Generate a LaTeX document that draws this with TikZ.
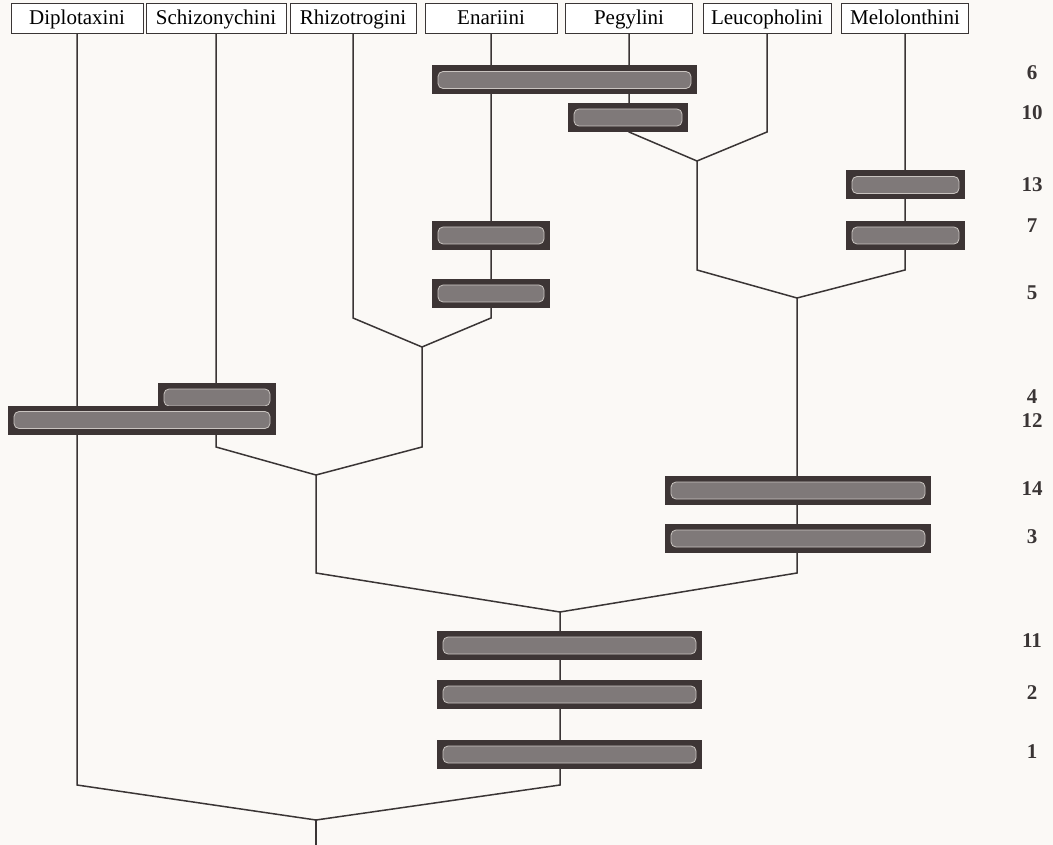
\documentclass[tikz,border=0pt]{standalone}
\usepackage{fontspec}
\setmainfont{Liberation Serif}
\usepackage{tikz}
\usetikzlibrary{positioning,calc}
\definecolor{paper}{HTML}{FBF9F6}
\definecolor{ink}{HTML}{3A3535}
\definecolor{barink}{HTML}{3D3535}
\definecolor{barmid}{HTML}{7F7979}
\definecolor{barrim}{HTML}{C9C4C0}
\tikzset{
  taxon/.style={rectangle, draw=ink, fill=white, line width=0.9pt,
                minimum height=30pt, inner sep=0pt, text height=16pt, text depth=2pt,
                font=\fontsize{21}{24}\selectfont},
  branch/.style={draw=ink, line width=1.5pt, line join=miter},
  bar/.style={rectangle, fill=barink, minimum height=29pt, inner sep=0pt,
              path picture={\fill[barmid, draw=barrim, line width=0.8pt, rounded corners=5pt]
                ([shift={(6pt,-6pt)}]path picture bounding box.north west) rectangle
                ([shift={(-6pt,6pt)}]path picture bounding box.south east);}},
  num/.style={font=\fontsize{21}{23}\selectfont\bfseries, text=ink}
}

\begin{document}
\begin{tikzpicture}[x=1pt, y=-1pt]
  \fill[paper] (0,0) rectangle (1053,845);
  \useasboundingbox (0,0) rectangle (1053,845);

  % taxa along the top
  \node[taxon, minimum width=132pt] (dipl) at (77,18)  {Diplotaxini};
  \node[taxon, minimum width=140pt] (schi) at (216,18) {Schizonychini};
  \node[taxon, minimum width=126pt] (rhiz) at (353,18) {Rhizotrogini};
  \node[taxon, minimum width=132pt] (enar) at (491,18) {Enariini};
  \node[taxon, minimum width=127pt] (pegy) at (629,18) {Pegylini};
  \node[taxon, minimum width=128pt] (leuc) at (767,18) {Leucopholini};
  \node[taxon, minimum width=127pt] (melo) at (905,18) {Melolonthini};

  % junctions and arm levels
  \coordinate (j1) at (697,161);  \coordinate (k1) at (0,132);
  \coordinate (j2) at (797,298);  \coordinate (k2) at (0,270);
  \coordinate (j3) at (422,347);  \coordinate (k3) at (0,318);
  \coordinate (j4) at (316,475);  \coordinate (k4) at (0,447);
  \coordinate (j5) at (560,612);  \coordinate (k5) at (0,573);
  \coordinate (root) at (316,820); \coordinate (k6) at (0,785);
  \coordinate (base) at (316,845);

  \draw[branch] (pegy.south) -- (pegy.south |- k1) -- (j1) -- (leuc.south |- k1) -- (leuc.south);
  \draw[branch] (j1) -- (j1 |- k2) -- (j2) -- (melo.south |- k2) -- (melo.south);
  \draw[branch] (rhiz.south) -- (rhiz.south |- k3) -- (j3) -- (enar.south |- k3) -- (enar.south);
  \draw[branch] (schi.south) -- (schi.south |- k4) -- (j4) -- (j3 |- k4) -- (j3);
  \draw[branch] (j4) -- (j4 |- k5) -- (j5) -- (j2 |- k5) -- (j2);
  \draw[branch] (dipl.south) -- (dipl.south |- k6) -- (root) -- (j5 |- k6) -- (j5);
  \draw[branch] (root) -- (base);

  % character bars
  \foreach \id/\x/\y/\w in {6/564.5/80/265, 10/628/117.5/120, 13/905.5/185/119,
      7a/491/235.5/118, 7b/905.5/235.5/119, 5/491/293.5/118,
      4/217/397.5/118, 12/142/420/268, 14/798/490.5/266, 3/798/538.5/266,
      11/569.5/645.5/265, 2/569.5/694.5/265, 1/569.5/754.5/265}
    \node[bar, minimum width=\w pt] (b\id) at (\x,\y) {};

  % character numbers
  \foreach \n/\y in {6/73, 10/113, 13/185, 7/226, 5/293, 4/397, 12/421,
      14/489, 3/537, 11/641, 2/693, 1/752}
    \node[num] (n\n) at (1032,\y) {\n};
\end{tikzpicture}
\end{document}
